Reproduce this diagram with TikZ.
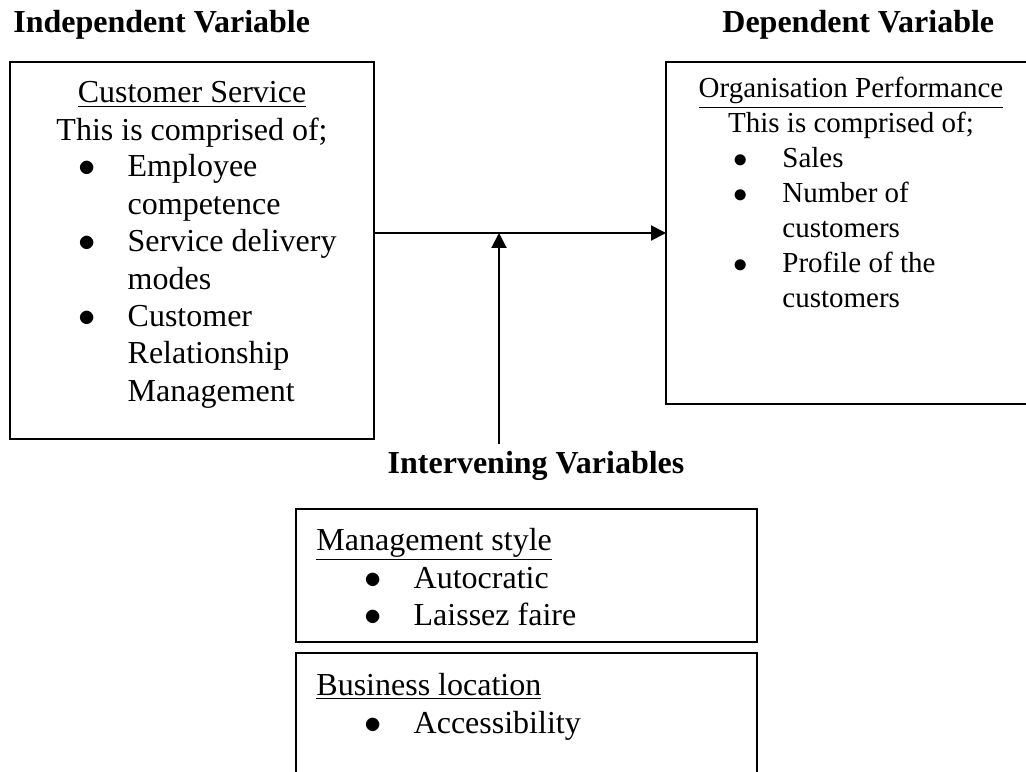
\documentclass[tikz,border=0pt]{standalone}
\usepackage{fontspec}
\setmainfont{Liberation Serif}
\usetikzlibrary{arrows.meta}
\usetikzlibrary{positioning}

% bullet list: gap after the bullet, then the rows
\newcommand{\blist}[2]{\begin{tabular}[t]{@{}c@{\hspace{#1}}l@{}}#2\end{tabular}}
\newcommand{\bdot}{$\bullet$}

\begin{document}
\begin{tikzpicture}[x=0.5pt,y=0.5pt,
  box/.style={draw,line width=1pt,rectangle,anchor=north west,outer sep=0pt,inner sep=0pt},
  head/.style={font=\fontsize{16}{19}\selectfont\bfseries},
  txt/.style={font=\fontsize{16}{18.7}\selectfont,inner sep=0pt},
  small/.style={font=\fontsize{14.5}{17.5}\selectfont,inner sep=0pt},
  arr/.style={line width=1pt,-{Triangle[length=7.5pt,width=7.5pt]}}]
\clip (0,0) rectangle (1026,771);

% headings
\node[head,inner sep=0pt,anchor=base west] (indep) at (13,738) {Independent Variable};
\node[head,inner sep=0pt,anchor=base west] (dep) at (722,738) {Dependent Variable};
\node[head,anchor=base] (interv) at (536,298) {Intervening Variables};

% boxes
\node[box,minimum width=182pt,minimum height=188.5pt] (cs) at (10,709) {};
\node[box,minimum width=185pt,minimum height=171pt] (op) at (666,709) {};
\node[box,minimum width=230.5pt,minimum height=66.5pt] (ms) at (296,262) {};
\node[box,minimum width=230.5pt,minimum height=80pt] (bl) at (296,118) {};

% customer service
\node[txt,anchor=base] (cstitle) at (192,668) {\begin{tabular}[t]{@{}c@{}}\underline{Customer Service}\\This is comprised of;\end{tabular}};
\node[txt,anchor=base west] (cslist) at (78,594) {\blist{16pt}{%
\bdot & Employee\\ & competence\\
\bdot & Service delivery\\ & modes\\
\bdot & Customer\\ & Relationship\\ & Management}};

% organisation performance
\node[small,anchor=base] (optitle) at (851,673) {\begin{tabular}[t]{@{}c@{}}\underline{Organisation Performance}\\This is comprised of;\end{tabular}};
\node[small,anchor=base west] (oplist) at (732.8,603) {\blist{17.4pt}{%
\bdot & Sales\\
\bdot & Number of\\ & customers\\
\bdot & Profile of the\\ & customers}};

% intervening variables
\node[txt,anchor=base west] (mstitle) at (316,221) {\underline{Management style}};
\node[txt,anchor=base west] (mslist) at (364,183) {\blist{16pt}{%
\bdot & Autocratic\\
\bdot & Laissez faire}};
\node[txt,anchor=base west] (bltitle) at (316,76) {\underline{Business location}};
\node[txt,anchor=base west] (bllist) at (364,38) {\blist{16pt}{%
\bdot & Accessibility}};

% connectors
\coordinate (join) at (499,538);
\draw[arr] (cs.east |- op.west) -- (op.west);
\draw[arr] (join |- interv.north) -- (join);

\end{tikzpicture}
\end{document}
